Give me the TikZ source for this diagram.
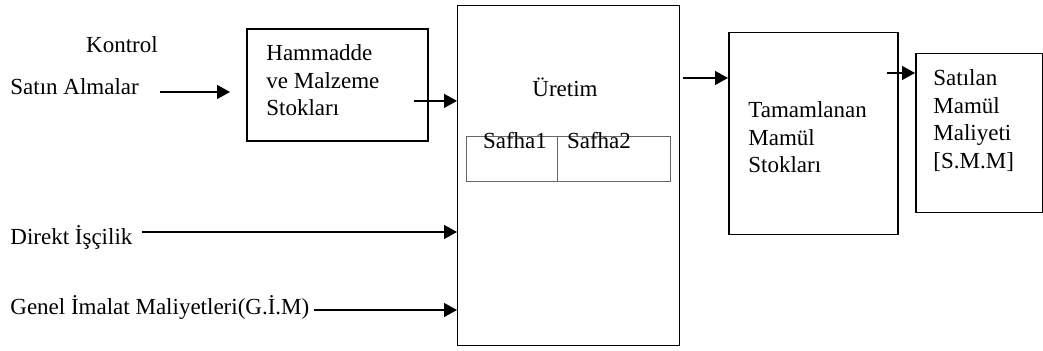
\documentclass[tikz,border=0pt]{standalone}
\usepackage{fontspec}
\setmainfont{Liberation Serif}
\usetikzlibrary{arrows.meta}
\begin{document}
\begin{tikzpicture}[x=0.5pt,y=-0.5pt,
  every node/.style={inner sep=0pt, font=\fontsize{11.5}{13.75}\selectfont},
  txt/.style={anchor=base west},
  block/.style={text=black, align=left, anchor=north west},
  box/.style={draw, line width=0.6pt, anchor=north west, minimum width=#1},
  cell/.style={draw=black!60, line width=0.5pt, anchor=north west, minimum width=#1, minimum height=22.5pt},
  arr/.style={line width=0.65pt, -{Triangle[length=6.5pt,width=7pt]}}]
\useasboundingbox (0,0) rectangle (1043,351);

% boxes
\node[box=90.5pt, minimum height=56pt, line width=0.9pt] (hm) at (246,28) {};
\node[box=111pt, minimum height=170pt] (ur) at (457,5) {};
\node[box=84.5pt, minimum height=101pt, line width=0.75pt] (tm) at (728,32) {};
\node[box=63.5pt, minimum height=79.5pt, line width=0.75pt] (sm) at (915,53) {};

% production phases
\node[cell=45.5pt] (s1) at (466,136) {};
\node[cell=56.5pt] (s2) at (557,136) {};
\node[anchor=base] (s1t) at (515,149) {Safha1};
\node[anchor=base] (s2t) at (599,149) {Safha2};

% texts
\node[anchor=base] (ko) at (122,53) {Kontrol};
\node[txt] (sa) at (10,95) {Satın Almalar};
\node[txt] (di) at (10,245) {Direkt İşçilik};
\node[txt] (gi) at (10,315) {Genel İmalat Maliyetleri(G.İ.M)};
\node[anchor=base] (urt) at (565,97) {Üretim};
\node[block] (hmt) at (266,44.3) {Hammadde\\ve Malzeme\\Stokları};
\node[block] (tmt) at (748,101.3) {Tamamlanan\\Mamül\\Stokları};
\node[block] (smt) at (933,69.3) {Satılan\\Mamül\\Maliyeti\\{[S.M.M]}};

% flows
\draw[arr, shorten >=8pt] ([shift={(21,-3)}]sa.base east) coordinate (a1) -- (a1 -| hm.west);
\draw[arr] ([shift={(-15,16)}]hm.east) coordinate (a2) -- (a2 -| ur.west);
\draw[arr] ([shift={(3,73)}]ur.north east) coordinate (a3) -- (a3 -| tm.west);
\draw[arr] ([shift={(-12,41)}]tm.north east) coordinate (a4) -- (a4 -| sm.west);
\draw[arr] ([shift={(9,-13)}]di.base east) coordinate (a5) -- (a5 -| ur.west);
\draw[arr] ([shift={(4,-5)}]gi.base east) coordinate (a6) -- (a6 -| ur.west);
\end{tikzpicture}
\end{document}
